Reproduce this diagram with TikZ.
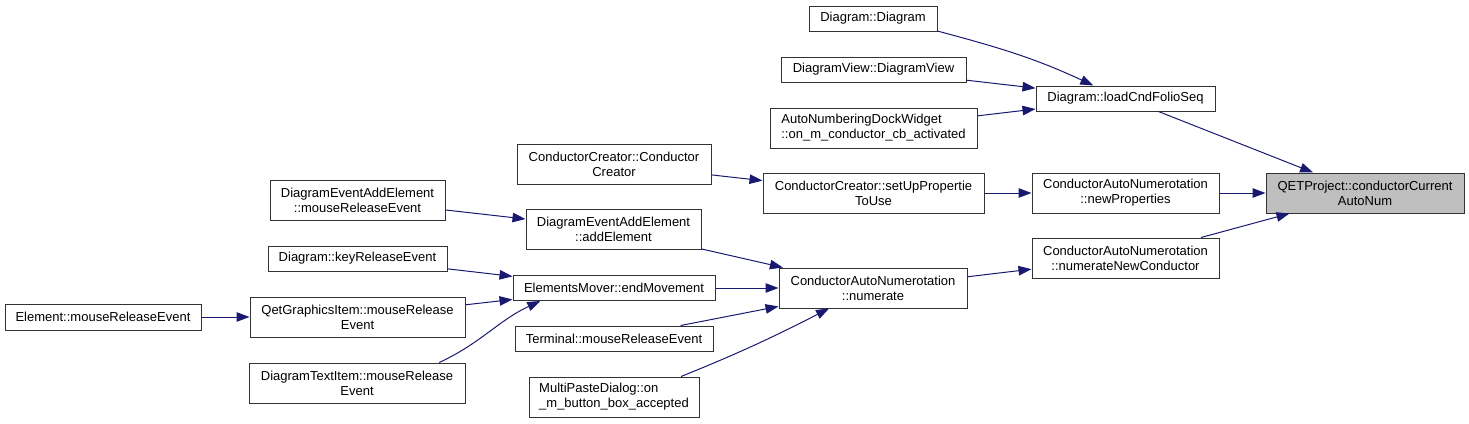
\documentclass[tikz,border=0pt]{standalone}
\usepackage{fontspec}
\setmainfont{Liberation Sans}
\usetikzlibrary{arrows.meta}
\definecolor{edgeblue}{HTML}{191970}
\definecolor{selgray}{HTML}{BFBFBF}

\begin{document}
\begin{tikzpicture}[x=1pt,y=1pt,
  fn/.style={draw=black!80, line width=1pt, rectangle, inner sep=0pt,
    minimum height=25pt, align=center, font=\fontsize{13}{15}\selectfont},
  fntwo/.style={fn, minimum height=40pt},
  call/.style={draw=edgeblue, line width=1pt,
    -{Triangle[length=13pt,width=9.5pt,fill=edgeblue]}}]
\useasboundingbox (0,0) rectangle (1469,-423);

\node[fn, minimum width=128pt] (dd) at (873,-18.5) {Diagram::Diagram};
\node[fn, minimum width=185pt] (dv) at (873.5,-69.5) {DiagramView::DiagramView};
\node[fntwo, minimum width=207pt, align=left] (andw) at (873.5,-128) {AutoNumberingDockWidget\\::on\_m\_conductor\_cb\_activated};
\node[fn, minimum width=179pt] (lcfs) at (1125.5,-98.5) {Diagram::loadCndFolioSeq};
\node[fntwo, minimum width=198pt, fill=selgray] (qet) at (1365,-193) {QETProject::conductorCurrent\\AutoNum};
\node[fntwo, minimum width=187pt] (newp) at (1125.5,-193) {ConductorAutoNumerotation\\::newProperties};
\node[fntwo, minimum width=187pt] (nnc) at (1125.5,-258) {ConductorAutoNumerotation\\::numerateNewConductor};
\node[fntwo, minimum width=194pt] (cccc) at (614,-164) {ConductorCreator::Conductor\\Creator};
\node[fntwo, minimum width=221pt] (setup) at (873.5,-193) {ConductorCreator::setUpPropertie\\ToUse};
\node[fntwo, minimum width=188pt] (num) at (873,-288) {ConductorAutoNumerotation\\::numerate};
\node[fntwo, minimum width=175pt] (adde) at (613.5,-229) {DiagramEventAddElement\\::addElement};
\node[fn, minimum width=202pt] (endm) at (614,-288) {ElementsMover::endMovement};
\node[fn, minimum width=198pt] (term) at (614,-338.5) {Terminal::mouseReleaseEvent};
\node[fntwo, minimum width=170pt, align=left] (mpd) at (614,-397) {MultiPasteDialog::on\\\_m\_button\_box\_accepted};
\node[fntwo, minimum width=175pt] (deamre) at (357.5,-200) {DiagramEventAddElement\\::mouseReleaseEvent};
\node[fn, minimum width=179pt] (kre) at (357.5,-258.5) {Diagram::keyReleaseEvent};
\node[fntwo, minimum width=215pt] (qgi) at (357.5,-317) {QetGraphicsItem::mouseRelease\\Event};
\node[fntwo, minimum width=216pt] (dti) at (357,-383) {DiagramTextItem::mouseRelease\\Event};
\node[fn, minimum width=196pt, minimum height=26pt] (emre) at (103,-317) {Element::mouseReleaseEvent};

\draw[call] (dd.-11) to[out=-15,in=155] (lcfs.158);
\draw[call] (dv) -- (lcfs);
\draw[call] (andw) -- (lcfs);
\draw[call] (lcfs) -- (qet);
\draw[call] (cccc) -- (setup);
\draw[call] (setup) -- (newp);
\draw[call] (newp) -- (qet);
\draw[call] (nnc) -- (qet);
\draw[call] (num) -- (nnc);
\draw[call] (adde) -- (num);
\draw[call] (endm) -- (num);
\draw[call] (term) -- (num);
\draw[call] (mpd.17) to[out=22,in=-153] (num.205);
\draw[call] (deamre) -- (adde);
\draw[call] (kre) -- (endm);
\draw[call] (qgi) -- (endm);
\draw[call] (dti.14) to[out=25,in=-155] (endm.190);
\draw[call] (emre) -- (qgi);
\end{tikzpicture}
\end{document}
